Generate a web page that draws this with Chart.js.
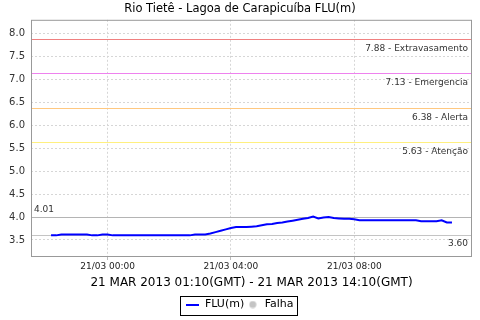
<!DOCTYPE html>
<html>
<head>
<meta charset="utf-8">
<script src="https://cdn.jsdelivr.net/npm/chart.js@4.4.0/dist/chart.umd.min.js"></script>
<style>
html, body { margin: 0; padding: 0; background: #fff; }
</style>
</head>
<body>
<canvas id="flu_chart" width="480" height="320"></canvas>
<script>
// readings every 10 minutes, local time (20/03 22:10 -> 21/03 11:10)
var times = [
    "22:10","22:20","22:30","22:40","22:50","23:00","23:10","23:20","23:30","23:40","23:50",
    "00:00","00:10","00:20","00:30","00:40","00:50",
    "01:00","01:10","01:20","01:30","01:40","01:50",
    "02:00","02:10","02:20","02:30","02:40","02:50",
    "03:00","03:10","03:20","03:30","03:40","03:50",
    "04:00","04:10","04:20","04:30","04:40","04:50",
    "05:00","05:10","05:20","05:30","05:40","05:50",
    "06:00","06:10","06:20","06:30","06:40","06:50",
    "07:00","07:10","07:20","07:30","07:40","07:50",
    "08:00","08:10","08:20","08:30","08:40","08:50",
    "09:00","09:10","09:20","09:30","09:40","09:50",
    "10:00","10:10","10:20","10:30","10:40","10:50",
    "11:00","11:10"
];
var levels = [
    3.60,3.60,3.62,3.62,3.62,3.62,3.62,3.62,3.60,3.60,3.62,
    3.62,3.60,3.60,3.60,3.60,3.60,
    3.60,3.60,3.60,3.60,3.60,3.60,
    3.60,3.60,3.60,3.60,3.60,3.62,
    3.62,3.62,3.64,3.67,3.70,3.73,
    3.76,3.78,3.78,3.78,3.79,3.80,
    3.82,3.84,3.85,3.87,3.88,3.90,
    3.92,3.94,3.96,3.98,4.01,3.97,
    3.99,4.00,3.98,3.97,3.96,3.96,
    3.95,3.93,3.93,3.93,3.93,3.93,
    3.93,3.93,3.93,3.93,3.93,3.93,
    3.93,3.91,3.91,3.91,3.91,3.93,
    3.88,3.88
];

// alarm levels
var limitValues = [7.88, 7.13, 6.38, 5.63];
var limitNames = ["Extravasamento", "Emergencia", "Alerta", "Aten\u00e7\u00e3o"];
var limitColors = ["#f08080", "#ee82ee", "#ffc880", "#fff080"];

// axis ticks (minutes from 21/03 00:00 and metres)
var xTicks = [0, 240, 480];
var yTicks = [3.5, 4.0, 4.5, 5.0, 5.5, 6.0, 6.5, 7.0, 7.5, 8.0];

var chartTitle = "Rio Tiet\u00ea - Lagoa de Carapicu\u00edba FLU(m)";
var axisTitle = "21 MAR 2013 01:10(GMT) - 21 MAR 2013 14:10(GMT)";

var FONT = "'DejaVu Sans', sans-serif";

//turn "hh:mm" into minutes from 21/03 00:00 (evening readings belong to 20/03)
function toMinutes(t) {
    var h = parseInt(t.substr(0, 2), 10), m = parseInt(t.substr(3, 2), 10);
    var v = h * 60 + m;
    if (h >= 12) v -= 1440;
    return v;
}

function pad(n) { return (n < 10 ? "0" : "") + n; }

function tickLabel(v) {
    var day = v < 0 ? 20 : 21;
    var m = ((v % 1440) + 1440) % 1440;
    return pad(day) + "/03 " + pad(Math.floor(m / 60)) + ":" + pad(m % 60);
}

var points = times.map(function (t, i) { return { x: toMinutes(t), y: levels[i] }; });

//little images for the legend
var lineIcon = document.createElement("canvas");
lineIcon.width = 13; lineIcon.height = 2;
var lc = lineIcon.getContext("2d");
lc.fillStyle = "#0000ff"; lc.fillRect(0, 0, 13, 2);

var dotIcon = document.createElement("canvas");
dotIcon.width = 8; dotIcon.height = 8;
var dc = dotIcon.getContext("2d");
dc.fillStyle = "#c4c4c4"; dc.beginPath(); dc.arc(4, 4, 3.5, 0, Math.PI * 2); dc.fill();

var refLines = {
    id: "refLines",
    beforeDatasetsDraw: function (chart) {
        var ctx = chart.ctx, a = chart.chartArea, y = chart.scales.y;
        ctx.save();
        ctx.setLineDash([]);
        ctx.font = "9px " + FONT;
        ctx.textBaseline = "middle";
        ctx.lineWidth = 1;
        limitValues.forEach(function (v, i) {
            var py = Math.round(y.getPixelForValue(v)) + 0.5;
            ctx.strokeStyle = limitColors[i];
            ctx.beginPath(); ctx.moveTo(a.left, py); ctx.lineTo(a.right, py); ctx.stroke();
            ctx.fillStyle = "#333";
            ctx.textAlign = "right";
            ctx.fillText(v.toFixed(2) + " - " + limitNames[i], a.right - 4, py + 9);
        });
        // max and min of the series
        var hi = Math.max.apply(null, levels), lo = Math.min.apply(null, levels);
        var pyHi = Math.round(y.getPixelForValue(hi)) + 0.5;
        var pyLo = Math.round(y.getPixelForValue(lo)) + 0.5;
        ctx.strokeStyle = "#b4b4b4";
        ctx.beginPath(); ctx.moveTo(a.left, pyHi); ctx.lineTo(a.right, pyHi); ctx.stroke();
        ctx.strokeStyle = "#c4c4c4";
        ctx.beginPath(); ctx.moveTo(a.left, pyLo); ctx.lineTo(a.right, pyLo); ctx.stroke();
        ctx.fillStyle = "#333";
        ctx.textAlign = "left";
        ctx.fillText(hi.toFixed(2), a.left + 3, pyHi - 8);
        ctx.textAlign = "right";
        ctx.fillText(lo.toFixed(2), a.right - 4, pyLo + 8);
        ctx.restore();
    },
    afterDraw: function (chart) {
        var ctx = chart.ctx, a = chart.chartArea;
        ctx.save();
        ctx.setLineDash([]);
        ctx.strokeStyle = "#999";
        ctx.lineWidth = 1;
        ctx.strokeRect(a.left + 0.5, a.top + 0.5, a.right - a.left - 1, a.bottom - a.top);
        // box round the legend
        var hb = chart.legend.legendHitBoxes;
        if (hb && hb.length) {
            var last = hb[hb.length - 1];
            var l = hb[0].left - 6, r = last.left + last.width + 4;
            var t = hb[0].top - 3, b = hb[0].top + hb[0].height + 5;
            ctx.strokeStyle = "#000";
            ctx.strokeRect(Math.round(l) + 0.5, Math.round(t) + 0.5, Math.round(r - l), Math.round(b - t));
        }
        ctx.restore();
    }
};

var fluChart = new Chart(document.getElementById("flu_chart"), {
    type: "line",
    data: {
        datasets: [
            {
                label: "FLU(m)",
                data: points,
                borderColor: "#0000ff",
                backgroundColor: "#0000ff",
                borderWidth: 2,
                pointRadius: 0,
                tension: 0,
                yAxisID: "y"
            },
            {
                label: "Falha",
                data: [],
                borderColor: "#c4c4c4",
                backgroundColor: "#c4c4c4",
                yAxisID: "y"
            }
        ]
    },
    options: {
        responsive: false,
        animation: false,
        devicePixelRatio: 1,
        layout: { padding: 0 },
        plugins: {
            title: {
                display: true,
                text: chartTitle,
                color: "#000",
                font: { family: FONT, size: 11.5, weight: "normal" },
                padding: { top: 2, bottom: 4 }
            },
            legend: {
                position: "bottom",
                labels: {
                    usePointStyle: true,
                    pointStyleWidth: 13,
                    padding: 2,
                    color: "#000",
                    font: { family: FONT, size: 11 },
                    generateLabels: function (chart) {
                        var items = Chart.defaults.plugins.legend.labels.generateLabels(chart);
                        items[0].pointStyle = lineIcon;
                        items[1].pointStyle = dotIcon;
                        return items;
                    }
                }
            },
            tooltip: { enabled: false }
        },
        scales: {
            x: {
                type: "linear",
                min: -149,
                max: 709,
                afterBuildTicks: function (s) { s.ticks = xTicks.map(function (v) { return { value: v }; }); },
                afterFit: function (s) { s.height = 41; },
                ticks: {
                    callback: function (v) { return tickLabel(v); },
                    color: "#222",
                    font: { family: FONT, size: 9 },
                    maxRotation: 0,
                    autoSkip: false,
                    padding: 1
                },
                grid: { color: "#d6d6d6", tickLength: 4, tickColor: "#bbb", tickBorderDash: [] },
                border: { display: false, dash: [2, 2] },
                title: {
                    display: true,
                    text: axisTitle,
                    color: "#000",
                    font: { family: FONT, size: 12 },
                    padding: { top: 0, bottom: 7 }
                }
            },
            y: {
                position: "left",
                min: 3.15,
                max: 8.3,
                afterBuildTicks: function (s) { s.ticks = yTicks.map(function (v) { return { value: v }; }); },
                afterFit: function (s) { s.width = 31; },
                ticks: {
                    callback: function (v) { return v.toFixed(1); },
                    color: "#333",
                    font: { family: FONT, size: 10 },
                    padding: 6
                },
                grid: { color: "#d6d6d6", drawTicks: false },
                border: { display: false, dash: [2, 2] }
            },
            yRight: {
                position: "right",
                afterFit: function (s) { s.width = 8; },
                ticks: { display: false },
                grid: { display: false },
                border: { display: false }
            }
        }
    },
    plugins: [refLines]
});
</script>
</body>
</html>
